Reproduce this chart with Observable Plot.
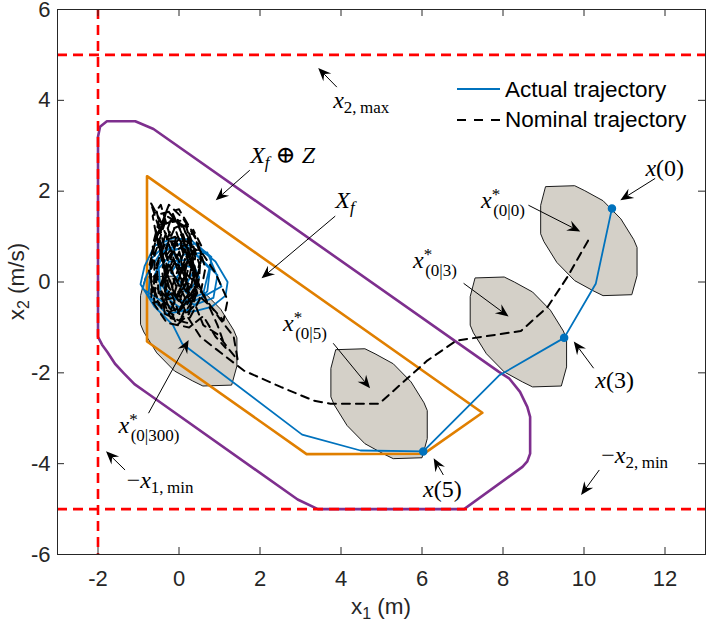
<!DOCTYPE html>
<html><head><meta charset="utf-8">
<script src="https://cdn.jsdelivr.net/npm/d3@7"></script>
<script src="https://cdn.jsdelivr.net/npm/@observablehq/plot@0.6"></script>
<style>body{margin:0;background:#fff}</style>
</head><body><div id="chart"></div>
<script>
const xTicks = [-2, 0, 2, 4, 6, 8, 10, 12];
const yTicks = [-6, -4, -2, 0, 2, 4, 6];
const x1MinLine = [-2];
const x2BoundLines = [5, -5];

// Terminal set X_f
const terminalSet = [[-0.79,2.33],[7.49,-2.88],[6.05,-3.78],[3.15,-3.79],[-0.79,-1.31]];
// X_f (+) Z
const terminalPlusZ = [[-2,-1.21],[-2,3.2],[-1.95,3.42],[-1.78,3.54],[-1.08,3.54],[-0.63,3.37],
  [7.9,-1.98],[8.15,-2.12],[8.42,-2.42],[8.6,-2.75],[8.67,-2.97],[8.67,-3.78],[8.6,-3.95],[8.48,-4.07],
  [7.04,-5.0],[3.43,-5.0],[2.93,-4.79],[-0.78,-2.45],[-1.1,-2.25],[-1.36,-2.01],[-1.58,-1.8],[-1.77,-1.54],[-1.9,-1.38]];

// Tube sets x*(0|k) (+) Z
const tube0 = [[9.06,2.10],[9.77,2.12],[10.02,2.01],[10.47,1.79],[10.91,1.39],[11.23,0.93],[11.31,0.76],[11.31,0.14],[11.18,-0.28],[10.47,-0.30],[10.22,-0.19],[9.77,0.03],[9.33,0.43],[9.01,0.89],[8.93,1.06],[8.93,1.68]];
const tube3 = [[7.32,0.09],[8.03,0.11],[8.28,0.00],[8.73,-0.22],[9.17,-0.62],[9.49,-1.08],[9.57,-1.25],[9.57,-1.87],[9.44,-2.29],[8.73,-2.31],[8.48,-2.20],[8.03,-1.98],[7.59,-1.58],[7.27,-1.12],[7.19,-0.95],[7.19,-0.33]];
const tube5 = [[3.88,-1.49],[4.59,-1.47],[4.84,-1.58],[5.29,-1.80],[5.73,-2.20],[6.05,-2.66],[6.13,-2.83],[6.13,-3.45],[6.00,-3.87],[5.29,-3.89],[5.04,-3.78],[4.59,-3.56],[4.15,-3.16],[3.83,-2.70],[3.75,-2.53],[3.75,-1.91]];
const tube300 = [[-0.82,0.11],[-0.11,0.13],[0.14,0.02],[0.59,-0.20],[1.03,-0.60],[1.35,-1.06],[1.43,-1.23],[1.43,-1.85],[1.30,-2.27],[0.59,-2.29],[0.34,-2.18],[-0.11,-1.96],[-0.55,-1.56],[-0.87,-1.10],[-0.95,-0.93],[-0.95,-0.31]];

// Nominal trajectory (dashed)
const nominalTraj = [[10.1,0.91],[9.59,0.11],[9.10,-0.55],[8.44,-1.08],[6.85,-1.29],[6.13,-1.73],[4.94,-2.68],[3.74,-2.68],[3.32,-2.61],[2.51,-2.31],[1.60,-1.95],[0.53,-1.21],
  [0.2,-0.75],[-0.15,0.1],[-0.4,0.9],[-0.55,1.55],[-0.35,1.1],[-0.05,0.3],[0.25,-0.4],[0.05,-0.8],[-0.25,-0.1],[-0.5,0.75],[-0.65,1.45],[-0.45,1.7],[-0.2,0.95],[0.1,0.2],[0.4,-0.5],[0.6,-0.95],
  [0.95,-1.15],[1.25,-1.5],[1.45,-1.72],[1.35,-1.2],[1.0,-0.8],[0.6,-0.3],
  [0.3,0.4],[0.05,1.1],[-0.15,1.5],[-0.35,1.0],[-0.55,0.3],[-0.6,-0.3],[-0.35,-0.7],[0.0,-0.85],[0.35,-0.55],[0.5,0.1],[0.55,0.8],[0.35,1.15],[0.1,0.6],[-0.15,-0.05],[-0.45,-0.55],[-0.62,-0.15],[-0.6,0.6],[-0.35,1.3],[0.05,1.35],[0.3,0.75],[0.45,0.05],[0.25,-0.7],[-0.05,-0.95],[-0.3,-0.45],[-0.42,0.25],[-0.25,0.95],[0.1,1.05],[0.3,0.45],[0.42,-0.25],[0.8,-0.55],[1.1,-0.85],[1.2,-0.4],[0.9,0.2],[0.6,0.6],[0.2,0.85],[-0.15,0.65],[-0.45,-0.05],[-0.35,-0.7],[0.05,-0.55],[0.4,0.15],[0.25,0.95],[-0.05,1.4],[-0.4,1.25],[-0.7,1.75],[-0.5,1.2],[-0.7,0.55],[-0.68,-0.4],[-0.3,-0.9],[0.25,-1.0],[0.6,-0.75],[0.9,-1.2],[1.15,-1.45],[0.95,-0.95],[0.55,-0.15],[0.1,0.25],[-0.25,0.55],[-0.05,0.85],[0.2,0.05],[0.0,-0.45],[-0.28,0.15],[-0.5,0.95],[-0.3,1.6],[0.0,1.25],[0.22,0.5],[0.05,-0.2],[-0.2,-0.6],[-0.5,-0.3],[-0.55,0.4],[-0.2,1.15],[0.15,1.3],[0.4,0.55],[0.3,-0.15],[-0.05,-0.7],[-0.35,-0.2],[-0.3,0.6],[0.0,0.95],[0.3,0.3],[0.15,-0.35],[-0.15,0.2],[-0.4,0.75],[-0.6,1.2],[-0.4,0.45],[-0.1,-0.3],[0.2,-0.6],[0.45,-0.25],[0.25,0.5],[-0.05,1.05],[-0.25,0.4],[-0.45,-0.2],[-0.15,-0.5],[0.15,0.1],[0.0,0.65],[-0.2,0.25],[0.05,-0.1],[0.1,0.35],
  [0.3,-0.5],[0.5,0.4],[0.2,1.2],[-0.3,1.45],[-0.6,0.9],[-0.7,0.1],[-0.5,-0.5],[-0.1,-0.75],[0.35,-0.3],[0.55,0.5],[0.4,1.0],[0.0,1.6],[-0.45,1.5],[-0.65,0.8],[-0.55,-0.1],[-0.2,-0.8],[0.2,-0.9],[0.5,-0.4],[0.65,0.3],[0.45,0.9],[0.1,1.4],[-0.25,1.7],[-0.55,1.0],[-0.75,0.3],[-0.6,-0.45],[-0.15,-0.35],[0.15,0.5],[-0.1,1.2],[-0.4,0.6],[-0.3,-0.3],[0.1,-0.15],[0.35,0.7],[0.05,0.2],[-0.2,0.9],[0.2,0.9],[0.4,-0.1],[0.1,-0.55],[-0.35,0.0],[-0.15,0.5],[0.1,0.0]];

// Actual trajectory (solid blue)
const actualTraj = [[10.69,1.62],[10.29,-0.04],[9.51,-1.23],[7.90,-2.06],[6.03,-3.73],[4.48,-3.71],[3.04,-3.36],[0.08,-1.36],
  [-0.15,-0.95],[-0.6,-0.55],[-0.95,-0.05],[-0.85,0.35],[-0.6,0.8],[-0.15,0.96],[0.3,0.93],[0.55,0.7],[0.9,0.45],[1.2,0.0],[1.15,-0.3],[0.8,-0.55],[0.35,-0.65],[-0.1,-0.6],[-0.55,-0.35],[-0.9,-0.15],[-0.8,0.15],[-0.45,0.65],[0.05,0.85],[0.5,0.55],[0.95,0.15],[0.85,-0.35],[0.4,-0.5],[-0.2,-0.35],[-0.6,0.15],[-0.35,0.7],[0.25,0.75],[0.75,0.3],[0.6,-0.25],[0.05,-0.45],[-0.4,-0.1],[-0.25,0.45],[0.3,0.5],[0.5,0.1],[0.2,-0.25],[-0.1,0.05],[0.1,0.3],
  [-0.3,0.85],[-0.7,0.5],[-0.75,-0.3],[-0.3,-0.7],[0.3,-0.6],[0.7,-0.2],[0.8,0.55],[0.4,0.85],[-0.1,0.7],[-0.5,0.3],[-0.45,-0.25],[0.0,-0.55],[0.55,-0.35],[1.05,-0.1],[0.7,0.65],[0.1,0.6],[-0.2,0.2],[0.15,-0.1],[0.4,0.3],[0.0,0.4]];
const actualMarkers = [[10.69,1.62],[9.51,-1.23],[6.03,-3.73]];

// Annotations: text anchor (data), arrow tail, arrow head (data)
const annotations = [
  {id:"x2max", at:[3.82,3.82], from:[3.91,4.28], to:[3.45,4.70]},
  {id:"XfZ",   at:[1.77,2.61], from:[1.76,2.45], to:[0.92,1.79]},
  {id:"Xf",    at:[3.87,1.62], from:[3.87,1.44], to:[2.05,0.07]},
  {id:"x00",   at:[7.47,1.62], from:[8.64,1.68], to:[9.92,1.10]},
  {id:"x03",   at:[5.79,0.30], from:[7.04,-0.04], to:[8.15,-0.77]},
  {id:"x05",   at:[2.58,-1.09], from:[3.82,-1.36], to:[4.73,-2.35]},
  {id:"x0300", at:[-1.48,-3.33], from:[-0.74,-2.90], to:[0.25,-1.29]},
  {id:"x1min", at:[-1.28,-4.54], from:[-1.32,-4.15], to:[-1.79,-3.74]},
  {id:"x2min", at:[10.44,-3.99], from:[10.39,-4.15], to:[9.94,-4.70]},
  {id:"x5",    at:[6.04,-4.74], from:[6.54,-4.26], to:[6.30,-3.89]},
  {id:"x3",    at:[10.29,-2.34], from:[10.25,-1.91], to:[9.76,-1.32]},
  {id:"x0",    at:[11.53,2.32], from:[11.77,2.27], to:[10.91,1.79]}
];
// Label segments: t text, i italic, s small, dx/dy shifts
const labelText = {
  x2max: [{t:"x",i:1},{t:"2,\u2009max",s:1,dy:5}],
  XfZ: [{t:"X",i:1},{t:"f",i:1,s:1,dy:5},{t:" \u2295 ",dy:-5},{t:"Z",i:1}],
  Xf: [{t:"X",i:1},{t:"f",i:1,s:1,dy:5}],
  x00: [{t:"x",i:1},{t:"*",s:1,dy:-8},{t:"(0|0)",s:1,dx:-7,dy:16}],
  x03: [{t:"x",i:1},{t:"*",s:1,dy:-8},{t:"(0|3)",s:1,dx:-7,dy:16}],
  x05: [{t:"x",i:1},{t:"*",s:1,dy:-8},{t:"(0|5)",s:1,dx:-7,dy:16}],
  x0300: [{t:"x",i:1},{t:"*",s:1,dy:-8},{t:"(0|300)",s:1,dx:-7,dy:16}],
  x1min: [{t:"\u2212"},{t:"x",i:1},{t:"1,\u2009min",s:1,dy:5}],
  x2min: [{t:"\u2212"},{t:"x",i:1},{t:"2,\u2009min",s:1,dy:5}],
  x5: [{t:"x",i:1},{t:"(5)"}],
  x3: [{t:"x",i:1},{t:"(3)"}],
  x0: [{t:"x",i:1},{t:"(0)"}]
};

const xy = {x: d => d[0], y: d => d[1]};
const FH = 628 - 9 - 74;
const axisColor = "#262626";
const tubeStyle = {curve: "linear-closed", fill: "#D4D0C8", stroke: "#1a1a1a", strokeWidth: 1};

const plot = Plot.plot({
  width: 706, height: 628,
  marginLeft: 57, marginRight: 1, marginTop: 9, marginBottom: 74,
  style: {fontFamily: "'Liberation Sans', Arial, sans-serif", fontSize: "22px", color: axisColor, background: "white", overflow: "visible"},
  x: {domain: [-3, 13], ticks: xTicks, tickSize: 0, tickPadding: 16, tickFormat: d => String(d), label: null},
  y: {domain: [-6, 6], ticks: yTicks, tickSize: 0, tickPadding: 7, tickFormat: d => String(d), label: null},
  marks: [
    Plot.line(tube300, {...xy, ...tubeStyle}),
    Plot.line(tube5, {...xy, ...tubeStyle}),
    Plot.line(tube3, {...xy, ...tubeStyle}),
    Plot.line(tube0, {...xy, ...tubeStyle}),
    Plot.line(terminalPlusZ, {...xy, curve: "linear-closed", stroke: "#7E2F8E", strokeWidth: 2.6}),
    Plot.line(terminalSet, {...xy, curve: "linear-closed", stroke: "#E07F00", strokeWidth: 2.6}),
    Plot.line(actualTraj, {...xy, stroke: "#0072BD", strokeWidth: 1.8}),
    Plot.line(nominalTraj, {...xy, stroke: "black", strokeWidth: 2, strokeDasharray: "8,6"}),
    Plot.ruleY(x2BoundLines, {y: d => d, stroke: "#FF0000", strokeWidth: 2.6, strokeDasharray: "10,6"}),
    Plot.ruleX(x1MinLine, {x: d => d, stroke: "#FF0000", strokeWidth: 2.6, strokeDasharray: "10,6"}),
    Plot.dot(actualMarkers, {...xy, r: 3.5, fill: "#0072BD", stroke: "#0072BD"}),
    Plot.tickX(xTicks, {x: d => d, insetTop: FH - 7, stroke: axisColor}),
    Plot.tickX(xTicks, {x: d => d, insetBottom: FH - 7, stroke: axisColor}),
    Plot.tickY(yTicks, {y: d => d, insetRight: 706 - 57 - 1 - 7, stroke: axisColor}),
    Plot.tickY(yTicks, {y: d => d, insetLeft: 706 - 57 - 1 - 7, stroke: axisColor}),
    Plot.frame({stroke: axisColor})
  ]
});

const sx = plot.scale("x"), sy = plot.scale("y");
const X = v => sx.apply(v), Y = v => sy.apply(v);
const svg = d3.select(plot);
const g = svg.append("g").attr("text-anchor", "start");

// arrows
annotations.forEach(a => {
  const x1 = X(a.from[0]), y1 = Y(a.from[1]), x2 = X(a.to[0]), y2 = Y(a.to[1]);
  const ang = Math.atan2(y2 - y1, x2 - x1), c = Math.cos(ang), s = Math.sin(ang);
  const L = 13, w = 5.5, back = 8.5;
  g.append("line").attr("x1", x1).attr("y1", y1).attr("x2", x2 - back * c).attr("y2", y2 - back * s)
    .attr("stroke", "black").attr("stroke-width", 1);
  g.append("path").attr("d",
    `M${x2},${y2}L${x2 - L*c - w*s},${y2 - L*s + w*c}L${x2 - back*c},${y2 - back*s}L${x2 - L*c + w*s},${y2 - L*s - w*c}Z`)
    .attr("fill", "black");
});

// math labels
const mainSize = 24, smallSize = 17;
annotations.forEach(a => {
  const t = g.append("text").attr("x", X(a.at[0])).attr("y", Y(a.at[1])).attr("text-anchor", "start")
    .attr("font-family", "'Liberation Serif', 'DejaVu Serif', serif").attr("font-size", mainSize).attr("fill", "black");
  labelText[a.id].forEach(sg => {
    const ts = t.append("tspan").text(sg.t);
    if (sg.i) ts.attr("font-style", "italic");
    if (sg.s) ts.attr("font-size", smallSize);
    if (sg.dx) ts.attr("dx", sg.dx);
    if (sg.dy) ts.attr("dy", sg.dy);
  });
});

// axis labels
const fontSans = "'Liberation Sans', Arial, sans-serif";
const xl = svg.append("text").attr("x", (X(-3) + X(13)) / 2).attr("y", 614).attr("text-anchor", "middle")
  .attr("font-family", fontSans).attr("font-size", 22.5).attr("fill", axisColor);
xl.append("tspan").text("x");
xl.append("tspan").text("1").attr("font-size", 16).attr("dy", 5);
xl.append("tspan").text(" (m)").attr("dy", -5);
const yl = svg.append("text").attr("transform", `translate(24,${(Y(-6) + Y(6)) / 2}) rotate(-90)`).attr("text-anchor", "middle")
  .attr("font-family", fontSans).attr("font-size", 22.5).attr("fill", axisColor);
yl.append("tspan").text("x");
yl.append("tspan").text("2").attr("font-size", 16).attr("dy", 5);
yl.append("tspan").text(" (m/s)").attr("dy", -5);

// legend
const lg = svg.append("g").attr("font-family", fontSans).attr("font-size", 22.5).attr("fill", "black").attr("text-anchor", "start");
lg.append("line").attr("x1", 457).attr("x2", 500).attr("y1", 89).attr("y2", 89).attr("stroke", "#0072BD").attr("stroke-width", 2);
lg.append("text").attr("x", 505).attr("y", 97).text("Actual trajectory");
lg.append("line").attr("x1", 457).attr("x2", 500).attr("y1", 120).attr("y2", 120).attr("stroke", "black").attr("stroke-width", 2).attr("stroke-dasharray", "9,8");
lg.append("text").attr("x", 505).attr("y", 127).text("Nominal trajectory");

document.getElementById("chart").appendChild(plot);
</script>
</body></html>
